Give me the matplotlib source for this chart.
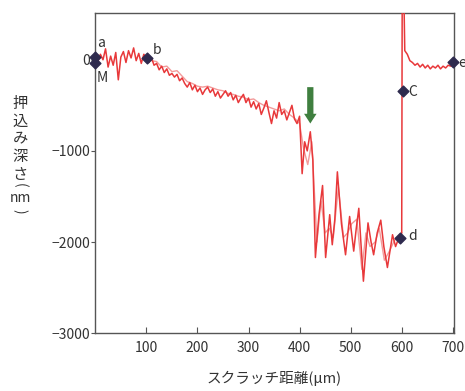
import matplotlib
matplotlib.use("Agg")
import matplotlib.pyplot as plt

plt.rcParams['font.family'] = ['Noto Sans CJK JP', 'DejaVu Sans']

# main trace (red)
dist_main = [0, 5, 10, 15, 20, 25, 30, 35, 40, 45, 50, 55, 60, 65, 70, 75, 80, 85, 90, 95, 100,
             105, 110, 115, 120, 125, 130, 135, 140, 145, 150, 155, 160, 165, 170, 175, 180, 185, 190,
             195, 200, 205, 210, 215, 220, 225, 230, 235, 240, 245, 250, 255, 260, 265, 270, 275, 280,
             285, 290, 295, 300, 305, 310, 315, 320, 325, 330, 335, 340, 345, 350, 355, 360, 365, 370,
             375, 380, 385, 390, 395, 400, 405, 410, 415, 421, 426, 431, 438, 445, 451, 459, 464, 469,
             474, 482, 490, 498, 506, 511, 516, 520, 525, 534, 540, 545, 552, 559, 565, 572, 582, 588,
             594, 600, 601, 604, 606, 611, 616, 621, 626, 631, 636, 641, 646, 651, 656, 661, 666, 671,
             676, 681, 686, 691, 696, 700]
depth_main = [50, -20, 60, 0, 120, -80, 40, -60, 80, -220, 30, 90, -30, 100, 20, 130, -10, 70, -40, 60, 20,
              -30, 20, -60, -40, -110, -70, -140, -100, -170, -150, -190, -160, -230, -200, -260, -300, -250, -330,
              -280, -350, -310, -380, -330, -300, -360, -320, -400, -350, -420, -380, -340, -400, -360, -440, -390, -470,
              -420, -380, -470, -420, -520, -460, -540, -480, -600, -530, -450, -580, -700, -560, -640, -470, -600, -560,
              -660, -580, -500, -650, -700, -620, -1250, -900, -1000, -790, -1100, -2170, -1700, -1380, -2170, -1700, -2030, -1750,
              -1230, -1800, -2140, -1720, -2100, -1850, -1630, -2000, -2430, -1790, -2000, -2140, -1900, -1760, -2050, -2280, -1920, -2050,
              -1960, -1900, 800, 800, 100, 60, -10, -30, -60, -40, -80, -50, -90, -60, -100, -70, -90, -60,
              -100, -70, -90, -60, -70, -60]

# second trace (pink, slightly offset)
dist_sub = [100, 110, 120, 130, 140, 150, 160, 170, 180, 190, 200, 210, 220, 230, 240, 250, 260, 270,
            280, 290, 300, 310, 320, 330, 340, 350, 360, 370, 380, 390, 400, 408, 416, 424, 434, 442,
            450, 458, 466, 476, 486, 494, 502, 512, 522, 530, 538, 548, 556, 566, 576, 586, 596, 600]
depth_sub = [40, -10, -20, -80, -70, -130, -120, -180, -240, -260, -290, -300, -290, -310, -330, -340, -370, -380,
             -400, -410, -440, -430, -470, -500, -520, -540, -560, -540, -600, -640, -700, -980, -1150, -900, -2000, -1550,
             -1900, -1850, -1950, -1400, -1950, -1900, -1800, -1750, -2300, -1900, -2050, -2000, -1850, -2200, -2100, -1980, -1950, -1900]

# marked points
pt_x = [0, 0, 101, 603, 596, 700]
pt_y = [30, -40, 20, -340, -1960, -30]
pt_labels = ['a', 'M', 'b', 'C', 'd', 'e']
lab_x = [3, 3, 112, 612, 612, 710]
lab_y = [185, -195, 110, -350, -1935, -40]

xticks = [100, 200, 300, 400, 500, 600, 700]
yticks = [0, -1000, -2000, -3000]

fig = plt.figure(figsize=(4.65, 3.91), dpi=100)
ax = fig.add_axes([0.205, 0.148, 0.772, 0.818])

ax.plot(dist_sub, depth_sub, color='#f39a9a', lw=1.0, zorder=2)
ax.plot(dist_main, depth_main, color='#e8383a', lw=1.1, zorder=3)

ax.scatter(pt_x, pt_y, marker='D', s=30, color='#2e2a4e', zorder=5, clip_on=False)
for lab, lx, ly in zip(pt_labels, lab_x, lab_y):
    ax.text(lx, ly, lab, fontsize=10, color='#333333', ha='left', va='center',
            zorder=6, clip_on=False)

# green arrow
ax.annotate('', xy=(421, -730), xytext=(421, -270),
            arrowprops=dict(arrowstyle='simple,head_width=0.9,head_length=0.7,tail_width=0.45',
                            color='#3f7f3f', lw=0))

ax.set_xlim(0, 703)
ax.set_ylim(-3000, 510)
ax.set_xticks(xticks)
ax.set_yticks(yticks)
ax.tick_params(axis='x', direction='in', length=4, colors='#555555', labelcolor='#333333', labelsize=10, pad=6)
ax.tick_params(axis='y', direction='out', length=3, colors='#555555', labelcolor='#333333', labelsize=10, pad=1)
for s in ax.spines.values():
    s.set_color('#555555')
    s.set_linewidth(1.0)

fig.text(0.59, 0.033, 'スクラッチ距離(μm)', ha='center', va='center', fontsize=10.5, color='#333333')

# vertical-writing y label
lx = 20 / 465
fig.text(lx, 1 - 139 / 391, '押\n込\nみ\n深\nさ', ha='center', va='center', fontsize=11,
         color='#333333', linespacing=1.05)
fig.text(lx, 1 - 185 / 391, '(', ha='center', va='center', fontsize=10, rotation=-90, color='#333333')
fig.text(lx, 1 - 198 / 391, 'nm', ha='center', va='center', fontsize=10, color='#333333')
fig.text(lx, 1 - 211 / 391, ')', ha='center', va='center', fontsize=10, rotation=-90, color='#333333')

fig.savefig('out.png', dpi=100)
